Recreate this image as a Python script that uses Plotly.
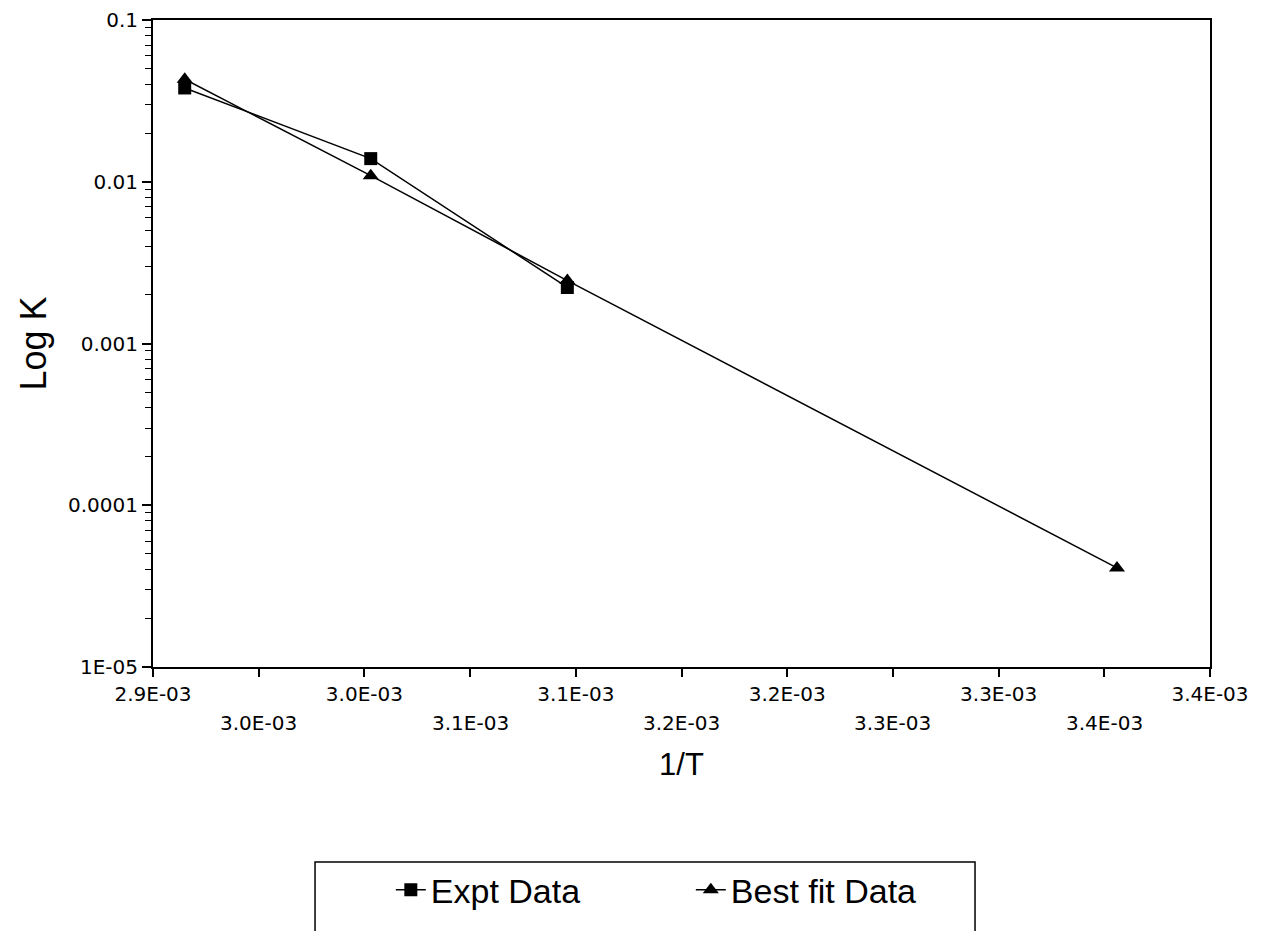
import plotly.graph_objects as go

# data
expt_x = [2.915e-3, 3.003e-3, 3.096e-3]
expt_y = [0.038, 0.0139, 0.00222]
fit_x = [2.915e-3, 3.003e-3, 3.096e-3, 3.356e-3]
fit_y = [0.043, 0.0109, 0.00245, 4.1e-5]

x_upper_vals = [2.9e-3, 3.0e-3, 3.1e-3, 3.2e-3, 3.3e-3, 3.4e-3]
x_upper_text = ["2.9E-03", "3.0E-03", "3.1E-03", "3.2E-03", "3.3E-03", "3.4E-03"]
x_lower_vals = [2.95e-3, 3.05e-3, 3.15e-3, 3.25e-3, 3.35e-3]
x_lower_text = ["3.0E-03", "3.1E-03", "3.2E-03", "3.3E-03", "3.4E-03"]
y_vals = [1e-5, 1e-4, 1e-3, 1e-2, 1e-1]
y_text = ["1E-05", "0.0001", "0.001", "0.01", "0.1"]
y_minor = [m * 10.0 ** e for e in range(-5, -1) for m in range(2, 10)]

fig = go.Figure()
fig.add_trace(go.Scatter(
    x=expt_x, y=expt_y, name="Expt Data", mode="lines+markers",
    line=dict(color="black", width=1.5),
    marker=dict(symbol="square", size=13, color="black"),
))
fig.add_trace(go.Scatter(
    x=fit_x, y=fit_y, name="Best fit Data", mode="lines+markers",
    line=dict(color="black", width=1.5),
    marker=dict(symbol="triangle-up", size=14, color="black"),
))

tickfont = dict(family="DejaVu Sans", size=20, color="black")

fig.update_xaxes(
    range=[2.9e-3, 3.4e-3], automargin=False,
    tickmode="array",
    tickvals=x_upper_vals + x_lower_vals,
    ticktext=x_upper_text + [""] * len(x_lower_vals),
    ticks="outside", ticklen=8, tickwidth=1.5, tickcolor="black",
    tickfont=tickfont,
    showline=True, linecolor="black", linewidth=2, mirror=True,
    showgrid=False, zeroline=False,
    title=dict(text="1/T", font=dict(family="Liberation Sans", size=31, color="black"), standoff=48),
)
fig.update_yaxes(
    type="log", range=[-5, -1], automargin=False,
    tickmode="array", tickvals=y_vals, ticktext=y_text,
    ticks="outside", ticklen=9, tickwidth=1.5, tickcolor="black",
    minor=dict(tickmode="array", tickvals=y_minor, ticks="outside", ticklen=6,
               tickwidth=1, tickcolor="black", showgrid=False),
    tickfont=tickfont,
    showline=True, linecolor="black", linewidth=2, mirror=True,
    showgrid=False, zeroline=False,
    title=dict(text="Log K", font=dict(family="Liberation Sans", size=36, color="black"), standoff=10),
)

for xv, tx in zip(x_lower_vals, x_lower_text):
    fig.add_annotation(x=xv, xref="x", y=-0.087, yref="paper", text=tx,
                       showarrow=False, font=tickfont, yanchor="middle")

fig.add_shape(type="rect", xref="paper", yref="paper",
              x0=0.1533, x1=0.7777, y0=-0.3014, y1=-0.45,
              line=dict(color="black", width=1.5))

fig.update_layout(
    width=1267, height=931,
    margin=dict(l=153, r=57, t=20, b=264),
    paper_bgcolor="white", plot_bgcolor="white",
    showlegend=True,
    legend=dict(orientation="h", x=0.225, xanchor="left", y=-0.30, yanchor="top",
                font=dict(family="Liberation Sans", size=34, color="black"),
                bgcolor="rgba(0,0,0,0)", borderwidth=0, entrywidth=255),
)

fig.write_html("out.html")
